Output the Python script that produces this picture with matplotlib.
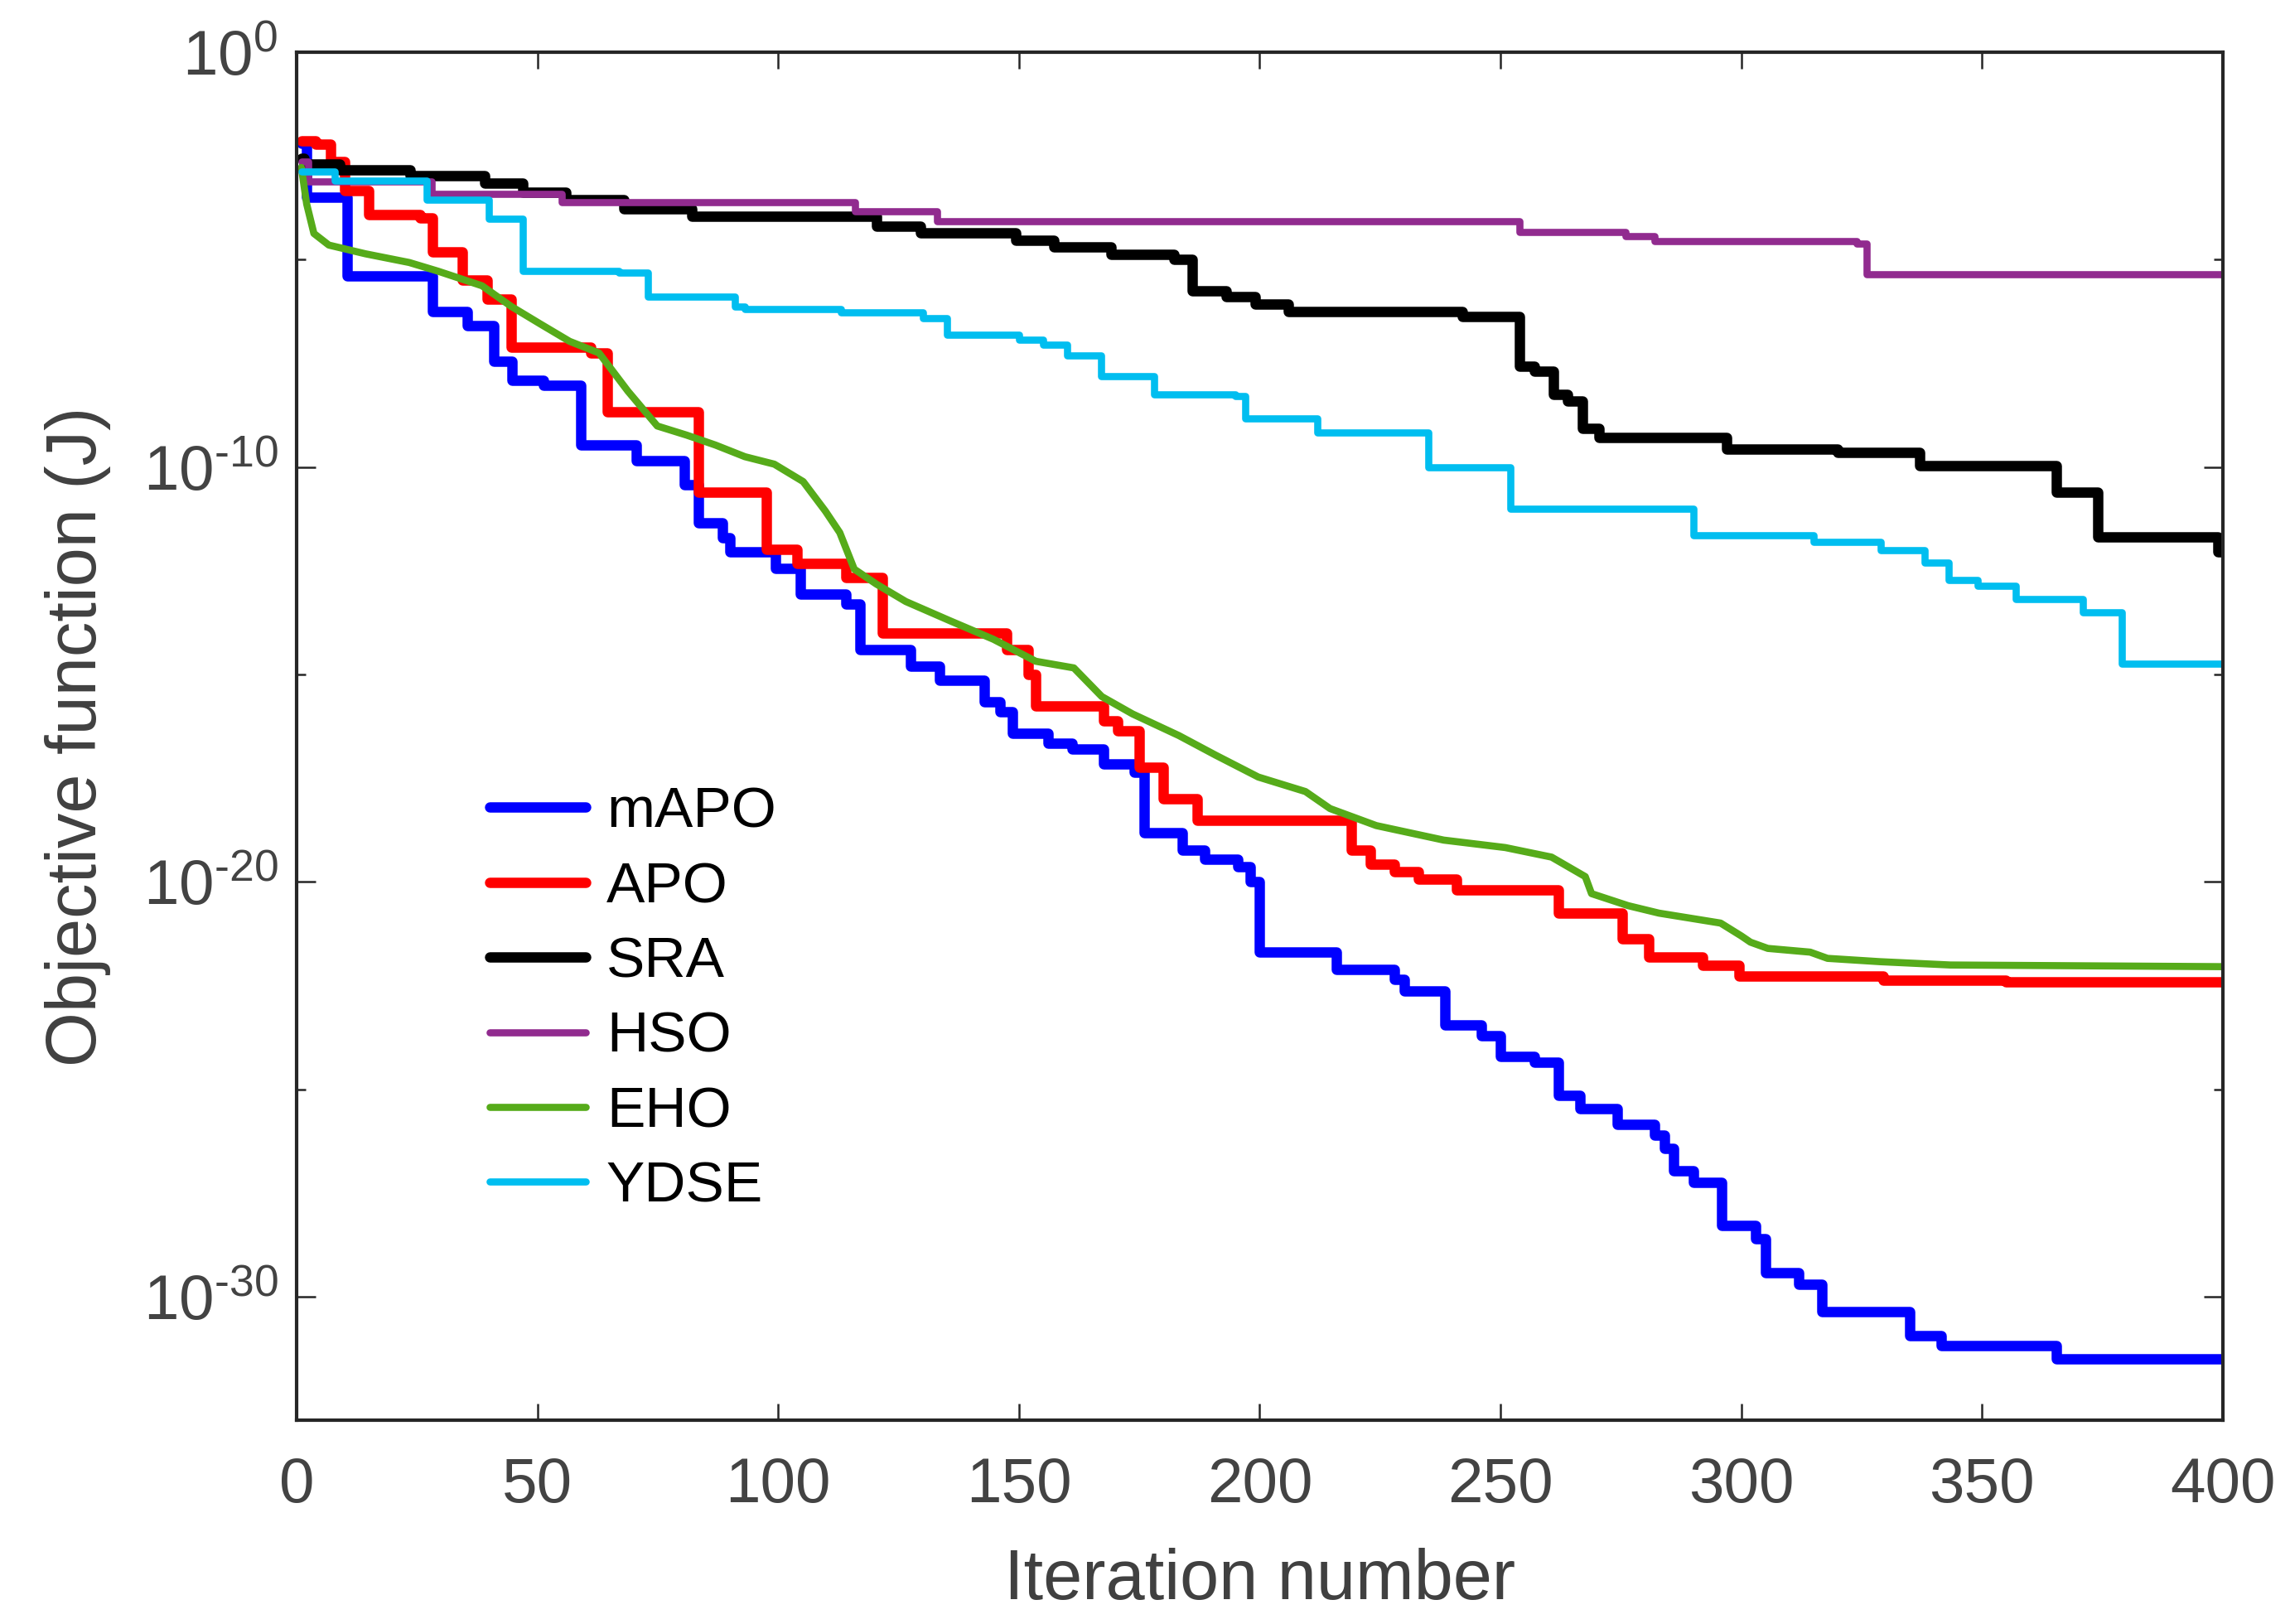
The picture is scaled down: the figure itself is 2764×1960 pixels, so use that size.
import numpy as np
import matplotlib
matplotlib.use("Agg")
import matplotlib.pyplot as plt
from matplotlib.ticker import FixedLocator, FuncFormatter, NullFormatter

plt.rcParams['font.family'] = ['Liberation Sans', 'DejaVu Sans']
plt.rcParams['mathtext.fontset'] = 'custom'
plt.rcParams['mathtext.rm'] = 'Liberation Sans'
plt.rcParams['mathtext.it'] = 'Liberation Sans:italic'
plt.rcParams['mathtext.bf'] = 'Liberation Sans:bold'
plt.rcParams['axes.unicode_minus'] = False

# ---- data: (iteration, log10 of objective) at change points ----
mapo_it = [1, 2, 10.5, 28.2, 35.4, 41, 44.7, 51.3, 59, 70.5, 80.5, 83.5, 88.5, 90, 99.5,
           104.6, 114, 117, 127.5, 133.5, 142.8, 146, 148.6, 156, 161, 167.5, 174, 176,
           184, 188.5, 195.5, 198, 200, 216, 228, 230, 238.5, 246, 250, 257, 262, 266.5,
           274.3, 282, 284, 286, 290, 296, 303, 305, 312, 316.7, 335, 341.5, 365.5, 400]
mapo_exp = [-2.2, -3.5, -5.39, -6.25, -6.59, -7.45, -7.91, -8.03, -9.46, -9.84, -10.43, -11.35,
            -11.7, -12.04, -12.44, -13.07, -13.3, -14.39, -14.79, -15.13, -15.65, -15.89,
            -16.41, -16.65, -16.80, -17.15, -17.35, -18.81, -19.23, -19.46, -19.64, -19.99,
            -21.69, -22.10, -22.35, -22.62, -23.44, -23.71, -24.2, -24.34, -25.14, -25.47,
            -25.85, -26.1, -26.41, -26.96, -27.23, -28.28, -28.59, -29.42, -29.69, -30.36,
            -30.94, -31.17, -31.49, -31.49]

apo_it = [1, 4, 7, 10, 15, 25.6, 28.2, 34.5, 39.5, 44.5, 61, 64.5, 83.5, 97.5, 104, 114,
          121.7, 147.5, 152, 153.5, 167.5, 170.5, 175, 180, 187, 219, 223, 228, 233, 240.8,
          262, 275.3, 280.7, 292, 299.5, 329.5, 355, 400]
apo_exp = [-2.14, -2.22, -2.64, -3.33, -3.92, -4.0, -4.82, -5.5, -5.96, -7.11, -7.25, -8.66,
           -10.6, -11.98, -12.32, -12.67, -13.99, -14.39, -15.0, -15.75, -16.11, -16.35,
           -17.23, -17.99, -18.52, -19.23, -19.58, -19.75, -19.93, -20.19, -20.75, -21.37,
           -21.81, -22.0, -22.27, -22.36, -22.4, -22.4]

sra_it = [1, 1.5, 9, 23.5, 39, 47, 56, 68, 82, 120.4, 129.6, 149.3, 157.3, 169.2, 182.2,
          186, 193, 199, 206, 242, 254, 257, 261, 264, 267, 270.5, 297, 320, 337, 365.5,
          374, 399, 400]
sra_exp = [-2.55, -2.70, -2.83, -2.97, -3.16, -3.38, -3.56, -3.78, -3.96, -4.19, -4.36,
           -4.53, -4.70, -4.88, -5.0, -5.75, -5.9, -6.08, -6.25, -6.37, -7.57, -7.68, -8.25,
           -8.4, -9.06, -9.29, -9.57, -9.65, -9.97, -10.6, -11.69, -12.04, -12.04]

hso_it = [1, 2.5, 28, 55, 116, 133, 254, 276, 282, 324, 326, 400]
hso_exp = [-2.64, -3.12, -3.41, -3.61, -3.84, -4.07, -4.34, -4.44, -4.55, -4.62, -5.36, -5.36]

eho_it = [1, 2.1, 3.6, 6.7, 14.3, 23.4, 29.4, 38.5, 44.6, 50.6, 56.7, 62.8, 68.8, 74.9, 81,
          87, 93.1, 99.2, 105.2, 109.8, 112.8, 115.8, 120.4, 126.5, 135.6, 144.7, 153.5,
          161.4, 167.2, 173.6, 183.2, 190.8, 199.7, 209.5, 214.6, 224.2, 238.2, 251, 260.6,
          267.6, 268.9, 276.5, 282.9, 295.7, 300, 301.9, 305.5, 314.3, 317.9, 328.8, 343.4, 400]
eho_exp = [-2.78, -3.66, -4.37, -4.65, -4.86, -5.07, -5.28, -5.63, -6.13, -6.55, -6.97, -7.25,
           -8.17, -9.01, -9.23, -9.47, -9.75, -9.93, -10.35, -11.06, -11.58, -12.46, -12.82,
           -13.24, -13.70, -14.15, -14.68, -14.84, -15.53, -15.95, -16.47, -16.94, -17.47,
           -17.82, -18.23, -18.64, -18.99, -19.17, -19.4, -19.87, -20.28, -20.57, -20.75,
           -20.99, -21.3, -21.45, -21.6, -21.69, -21.84, -21.92, -22.0, -22.04]

ydse_it = [1, 8, 27, 40, 47, 67, 73, 91, 93, 113, 130, 135, 150, 155, 160, 167, 178, 195,
           197, 212, 235, 252, 290, 315, 329, 338, 343, 349, 357, 371, 379, 400]
ydse_exp = [-2.88, -3.10, -3.56, -4.01, -5.28, -5.32, -5.90, -6.13, -6.19, -6.27, -6.42,
            -6.82, -6.93, -7.05, -7.31, -7.80, -8.25, -8.29, -8.83, -9.17, -10.0, -11.0,
            -11.64, -11.81, -12.01, -12.30, -12.72, -12.86, -13.18, -13.5, -14.73, -14.73]

labels = ['mAPO', 'APO', 'SRA', 'HSO', 'EHO', 'YDSE']
colors = ['#0000FF', '#FF0000', '#000000', '#912B8F', '#56AB1A', '#00BEF0']
ytick_exps = [0, -10, -20, -30]
yminor_exps = [-5, -15, -25]

series = [(mapo_it, mapo_exp, 'steps-post', 4.5),
          (apo_it, apo_exp, 'steps-post', 4.5),
          (sra_it, sra_exp, 'steps-post', 4.5),
          (hso_it, hso_exp, 'steps-post', 3.1),
          (eho_it, eho_exp, 'default', 3.1),
          (ydse_it, ydse_exp, 'steps-post', 3.1)]

fig = plt.figure(figsize=(13.82, 9.8), dpi=200)
ax = fig.add_axes([0.1295, 0.1255, 0.8412, 0.8424])

for (it, ex, ds, lw), lab, col in zip(series, labels, colors):
    ax.plot(it, 10.0 ** np.array(ex), drawstyle=ds, color=col, lw=lw, label=lab,
            solid_capstyle='round', solid_joinstyle='round')

ax.set_yscale('log')
ax.set_xlim(0, 400)
ax.set_ylim(10 ** -32.97, 1)
ax.set_xticks(np.arange(0, 401, 50))
ax.yaxis.set_major_locator(FixedLocator([10.0 ** e for e in ytick_exps]))
ax.yaxis.set_minor_locator(FixedLocator([10.0 ** e for e in yminor_exps]))


def fmt(v, pos):
    e = int(round(np.log10(v)))
    if e < 0:
        return r'$10^{\text{-}%d}$' % (-e)
    return r'$10^{%d}$' % e


ax.yaxis.set_major_formatter(FuncFormatter(fmt))
ax.yaxis.set_minor_formatter(NullFormatter())
ax.xaxis.set_minor_locator(FixedLocator([]))

spine_col = '#262626'
for s in ax.spines.values():
    s.set_linewidth(1.5)
    s.set_color(spine_col)

ax.tick_params(which='both', direction='in', top=True, right=True, color=spine_col,
               width=0.9, labelsize=27.5, labelcolor='#434343')
ax.tick_params(axis='x', which='major', length=7.2, pad=16)
ax.tick_params(axis='y', which='major', length=8.3, pad=8)
ax.tick_params(axis='y', which='minor', length=4)

ax.set_xlabel('Iteration number', fontsize=30.5, color='#404040', labelpad=14)
ax.set_ylabel('Objective function (J)', fontsize=30.5, color='#404040', labelpad=14)

leg = ax.legend(loc='upper left', bbox_to_anchor=(0.2138, 0.516),
                bbox_transform=fig.transFigure, frameon=False, fontsize=25,
                handlelength=1.67, handletextpad=0.36, labelspacing=0.38,
                borderpad=0, borderaxespad=0)
for t in leg.get_texts():
    t.set_color('black')

fig.savefig('out.png', dpi=200)
